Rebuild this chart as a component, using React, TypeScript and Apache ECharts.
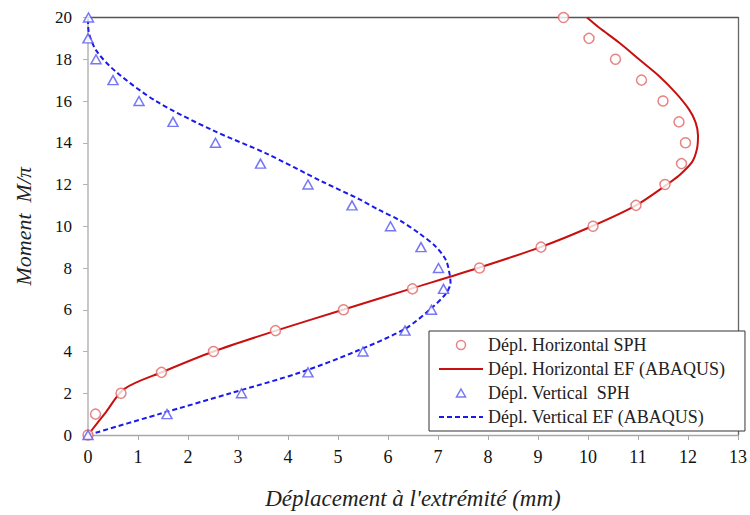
import React, { useEffect, useRef } from "react";
import * as echarts from "echarts";

// Moment levels M/π for SPH points
const momentLevels = [0, 1, 2, 3, 4, 5, 6, 7, 8, 9, 10, 11, 12, 13, 14, 15, 16, 17, 18, 19, 20];
// Horizontal displacement (SPH)
const hSphX = [0, 0.15, 0.66, 1.47, 2.51, 3.75, 5.11, 6.49, 7.83, 9.06, 10.1, 10.96, 11.54, 11.87, 11.95, 11.82, 11.5, 11.07, 10.55, 10.02, 9.51];
// Vertical displacement (SPH)
const vSphX = [0, 1.58, 3.07, 4.4, 5.5, 6.34, 6.87, 7.11, 7.01, 6.66, 6.05, 5.28, 4.4, 3.45, 2.55, 1.7, 1.02, 0.5, 0.16, 0.0, 0.01];

// Horizontal EF (ABAQUS) curve
const hEfX = [0, 0.36, 0.72, 1.5, 2.51, 3.76, 5.1, 6.45, 7.8, 9.05, 10.08, 10.96, 11.58, 11.82, 12.08, 12.18, 12.2, 12.15, 12.02, 11.75, 11.42, 11.02, 10.62, 10.22, 9.98];
const hEfY = [0, 1.1, 2.2, 3.03, 4.0, 5.0, 6.0, 7.0, 8.0, 9.0, 10.0, 11.0, 12.0, 12.43, 13.07, 13.71, 14.35, 14.99, 15.6, 16.4, 17.2, 18.0, 18.8, 19.52, 20.0];

// Vertical EF (ABAQUS) curve
const vEfX = [0, 1.42, 2.85, 4.25, 5.35, 6.35, 6.86, 7.16, 7.25, 7.23, 7.16, 6.96, 6.63, 6.23, 5.83, 5.43, 4.7, 3.57, 2.5, 1.37, 0.57, 0.17, 0.01, 0];
const vEfY = [0, 1, 2, 3, 4, 5.1, 6.06, 6.78, 7.3, 7.74, 8.37, 9.01, 9.65, 10.29, 10.77, 11.29, 12.12, 13.48, 14.59, 15.98, 17.38, 18.4, 19.38, 20];

const seriesNames = [
  "Dépl. Horizontal SPH",
  "Dépl. Horizontal EF (ABAQUS)",
  "Dépl. Vertical  SPH",
  "Dépl. Vertical EF (ABAQUS)",
];

const xTitle = "Déplacement à l'extrémité (mm)";
const yTitle = "Moment  M/π";

const SERIF = "'Liberation Serif', 'Times New Roman', serif";

export default function App() {
  const ref = useRef<HTMLDivElement>(null);
  useEffect(() => {
    if (!ref.current) return;
    const chart = echarts.init(ref.current, null, { renderer: "svg" });
    const pair = (xs: number[], ys: number[]) => xs.map((x, i) => [x, ys[i]]);
    const circleColor = "#e06464";
    const triColor = "#5555f2";
    const hLine = "#c81010";
    const vLine = "#1a1aee";
    chart.setOption({
      animation: false,
      backgroundColor: "#fff",
      textStyle: { fontFamily: SERIF },
      grid: { left: 88, right: 10, top: 17.5, bottom: 80, containLabel: false },
      legend: {
        orient: "vertical",
        left: 429,
        top: 331,
        backgroundColor: "#fff",
        borderColor: "#333",
        borderWidth: 1,
        padding: [5, 20, 5, 9],
        itemGap: 6,
        itemWidth: 44,
        itemHeight: 9,
        textStyle: { fontFamily: SERIF, fontSize: 18, color: "#222" },
        data: [
          {
            name: seriesNames[0],
            icon: "path://M0,0 M44,9 M26.5,4.5 A4.5,4.5 0 1 1 17.5,4.5 A4.5,4.5 0 1 1 26.5,4.5 Z",
            itemStyle: { color: "#fff", borderColor: circleColor, borderWidth: 1.5 },
          },
          { name: seriesNames[1], itemStyle: { opacity: 0 } },
          {
            name: seriesNames[2],
            icon: "path://M0,0 M44,9 M22,0.5 L26.5,8.5 L17.5,8.5 Z",
            itemStyle: { color: "#fff", borderColor: triColor, borderWidth: 1.5 },
          },
          { name: seriesNames[3], itemStyle: { opacity: 0 } },
        ],
        z: 10,
      },
      xAxis: [
        {
          type: "value",
          min: 0,
          max: 13,
          interval: 1,
          name: xTitle,
          nameLocation: "middle",
          nameGap: 52,
          nameTextStyle: { fontFamily: SERIF, fontSize: 23, fontStyle: "italic", color: "#222" },
          axisLine: { show: true, onZero: false, lineStyle: { color: "#a8a8a8", width: 1.3 } },
          axisTick: { show: true, length: 5, lineStyle: { color: "#a8a8a8" } },
          axisLabel: { margin: 13, fontSize: 18, color: "#111", fontFamily: SERIF },
          splitLine: { show: false },
        },
        {
          type: "value",
          position: "top",
          min: 0,
          max: 13,
          interval: 1,
          axisLine: { show: true, onZero: false, lineStyle: { color: "#555", width: 1.3 } },
          axisTick: { show: false },
          axisLabel: { show: false },
          splitLine: { show: false },
        },
      ],
      yAxis: [
        {
          type: "value",
          min: 0,
          max: 20,
          interval: 2,
          name: yTitle,
          nameLocation: "middle",
          nameGap: 54,
          nameTextStyle: { fontFamily: SERIF, fontSize: 22, fontStyle: "italic", color: "#222" },
          axisLine: { show: true, onZero: false, lineStyle: { color: "#b5b5b5", width: 1.5 } },
          axisTick: { show: true, length: 5, lineStyle: { color: "#b5b5b5" } },
          axisLabel: { margin: 16, fontSize: 17, color: "#111", fontFamily: SERIF },
          splitLine: { show: false },
        },
        {
          type: "value",
          position: "right",
          min: 0,
          max: 20,
          interval: 2,
          axisLine: { show: true, onZero: false, lineStyle: { color: "#666", width: 1.3 } },
          axisTick: { show: false },
          axisLabel: { show: false },
          splitLine: { show: false },
        },
      ],
      series: [
        {
          name: seriesNames[0],
          type: "scatter",
          symbol: "circle",
          symbolSize: 10,
          itemStyle: { color: "#fff", borderColor: circleColor, borderWidth: 1.5 },
          data: pair(hSphX, momentLevels),
          z: 4,
        },
        {
          name: seriesNames[1],
          type: "line",
          symbol: "none",
          smooth: 0.3,
          lineStyle: { color: hLine, width: 2 },
          itemStyle: { color: hLine },
          data: pair(hEfX, hEfY),
          z: 3,
        },
        {
          name: seriesNames[2],
          type: "scatter",
          symbol: "triangle",
          symbolSize: [10, 9],
          itemStyle: { color: "#fff", borderColor: triColor, borderWidth: 1.5 },
          data: pair(vSphX, momentLevels),
          z: 4,
        },
        {
          name: seriesNames[3],
          type: "line",
          symbol: "none",
          smooth: 0.3,
          lineStyle: { color: vLine, width: 2, type: [5, 3] },
          itemStyle: { color: vLine },
          data: pair(vEfX, vEfY),
          z: 3,
        },
      ],
    });
    return () => chart.dispose();
  }, []);
  return <div ref={ref} style={{ width: 750, height: 515, position: "absolute", left: 0, top: 0 }} />;
}
